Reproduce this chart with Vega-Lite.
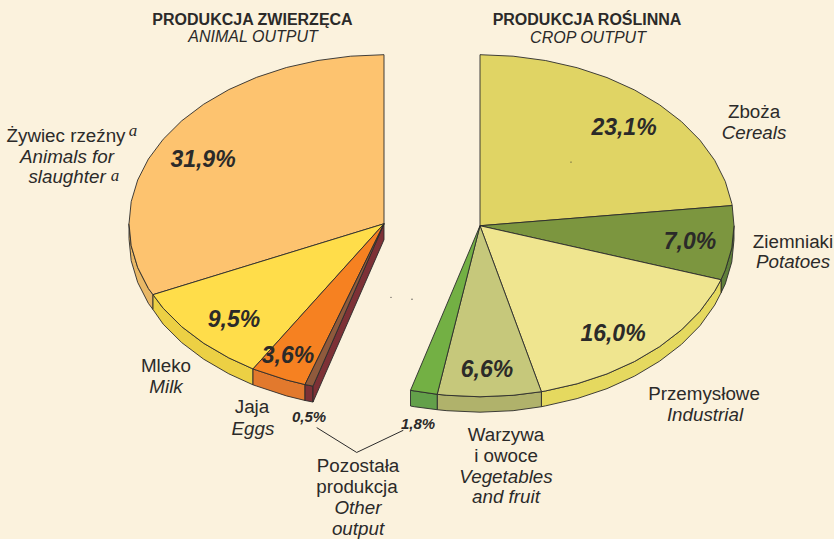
{"$schema":"https://vega.github.io/schema/vega-lite/v6.json","autosize":{"type":"fit","contains":"padding"},"width":834,"height":539,"padding":0,"background":"#fbf2dd","config":{"view":{"stroke":null}},
"datasets":{
"shapes":[
{"p":"wSlaughter","x":129,"y":225},{"p":"wSlaughter","x":131.2,"y":247.2},{"p":"wSlaughter","x":137.7,"y":269},{"p":"wSlaughter","x":148.4,"y":290.1},{"p":"wSlaughter","x":153,"y":296.3},{"p":"wSlaughter","x":153,"y":311.3},{"p":"wSlaughter","x":148.4,"y":305.1},{"p":"wSlaughter","x":137.7,"y":284},{"p":"wSlaughter","x":131.2,"y":262.2},{"p":"wSlaughter","x":129,"y":240},{"p":"wSlaughter","x":129,"y":225},
{"p":"wMilk","x":153,"y":296.3},{"p":"wMilk","x":163.2,"y":310},{"p":"wMilk","x":181.7,"y":328.5},{"p":"wMilk","x":203.7,"y":345.2},{"p":"wMilk","x":228.8,"y":359.9},{"p":"wMilk","x":253,"y":371},{"p":"wMilk","x":253,"y":387},{"p":"wMilk","x":228.8,"y":375.9},{"p":"wMilk","x":203.7,"y":361.2},{"p":"wMilk","x":181.7,"y":344.5},{"p":"wMilk","x":163.2,"y":326},{"p":"wMilk","x":153,"y":311.3},{"p":"wMilk","x":153,"y":296.3},
{"p":"wEggs","x":253,"y":371},{"p":"wEggs","x":256.5,"y":372.2},{"p":"wEggs","x":286.4,"y":382.1},{"p":"wEggs","x":305,"y":386.7},{"p":"wEggs","x":305,"y":402.7},{"p":"wEggs","x":286.4,"y":398.1},{"p":"wEggs","x":256.5,"y":388.2},{"p":"wEggs","x":253,"y":387},{"p":"wEggs","x":253,"y":371},
{"p":"wOther","x":305,"y":386.7},{"p":"wOther","x":313,"y":388.3},{"p":"wOther","x":313,"y":404.3},{"p":"wOther","x":305,"y":402.7},{"p":"wOther","x":305,"y":386.7},
{"p":"rOther","x":384,"y":225},{"p":"rOther","x":313,"y":388.3},{"p":"rOther","x":313,"y":404.3},{"p":"rOther","x":384,"y":241},{"p":"rOther","x":384,"y":225},
{"p":"wPotatoes","x":734,"y":227},{"p":"wPotatoes","x":731.8,"y":249.4},{"p":"wPotatoes","x":725.3,"y":271.5},{"p":"wPotatoes","x":721,"y":281.3},{"p":"wPotatoes","x":721,"y":294.5},{"p":"wPotatoes","x":725.3,"y":285.5},{"p":"wPotatoes","x":731.8,"y":263.4},{"p":"wPotatoes","x":734,"y":241},{"p":"wPotatoes","x":734,"y":227},
{"p":"wIndustrial","x":721,"y":281.3},{"p":"wIndustrial","x":714.7,"y":292.8},{"p":"wIndustrial","x":700,"y":313},{"p":"wIndustrial","x":681.5,"y":331.7},{"p":"wIndustrial","x":659.6,"y":348.6},{"p":"wIndustrial","x":634.6,"y":363.5},{"p":"wIndustrial","x":607,"y":376},{"p":"wIndustrial","x":577.2,"y":385.9},{"p":"wIndustrial","x":545.7,"y":393.1},{"p":"wIndustrial","x":541.4,"y":393.9},{"p":"wIndustrial","x":541.4,"y":409},{"p":"wIndustrial","x":545.7,"y":408.1},{"p":"wIndustrial","x":577.2,"y":400.8},{"p":"wIndustrial","x":607,"y":390.8},{"p":"wIndustrial","x":634.6,"y":378.2},{"p":"wIndustrial","x":659.6,"y":363.2},{"p":"wIndustrial","x":681.5,"y":346.3},{"p":"wIndustrial","x":700,"y":327.5},{"p":"wIndustrial","x":714.7,"y":306.8},{"p":"wIndustrial","x":721,"y":294.5},{"p":"wIndustrial","x":721,"y":281.3},
{"p":"wVegetables","x":541.4,"y":393.9},{"p":"wVegetables","x":513.1,"y":397.5},{"p":"wVegetables","x":480,"y":399},{"p":"wVegetables","x":446.9,"y":397.5},{"p":"wVegetables","x":437.2,"y":396.5},{"p":"wVegetables","x":437.2,"y":412},{"p":"wVegetables","x":446.9,"y":413},{"p":"wVegetables","x":480,"y":414.5},{"p":"wVegetables","x":513.1,"y":413},{"p":"wVegetables","x":541.4,"y":409},{"p":"wVegetables","x":541.4,"y":393.9},
{"p":"wCropOther","x":437.2,"y":396.5},{"p":"wCropOther","x":414.3,"y":393.1},{"p":"wCropOther","x":410.5,"y":392.5},{"p":"wCropOther","x":410.5,"y":408.3},{"p":"wCropOther","x":414.3,"y":409},{"p":"wCropOther","x":437.2,"y":412},{"p":"wCropOther","x":437.2,"y":396.5},
{"p":"Slaughter","x":384,"y":225},{"p":"Slaughter","x":384,"y":55},{"p":"Slaughter","x":350.7,"y":56.5},{"p":"Slaughter","x":318,"y":60.8},{"p":"Slaughter","x":286.4,"y":67.9},{"p":"Slaughter","x":256.5,"y":77.8},{"p":"Slaughter","x":228.8,"y":90.1},{"p":"Slaughter","x":203.7,"y":104.8},{"p":"Slaughter","x":181.7,"y":121.5},{"p":"Slaughter","x":163.2,"y":140},{"p":"Slaughter","x":148.4,"y":159.9},{"p":"Slaughter","x":137.7,"y":181},{"p":"Slaughter","x":131.2,"y":202.8},{"p":"Slaughter","x":129,"y":225},{"p":"Slaughter","x":131.2,"y":247.2},{"p":"Slaughter","x":137.7,"y":269},{"p":"Slaughter","x":148.4,"y":290.1},{"p":"Slaughter","x":153,"y":296.3},{"p":"Slaughter","x":384,"y":225},
{"p":"Milk","x":384,"y":225},{"p":"Milk","x":153,"y":296.3},{"p":"Milk","x":163.2,"y":310},{"p":"Milk","x":181.7,"y":328.5},{"p":"Milk","x":203.7,"y":345.2},{"p":"Milk","x":228.8,"y":359.9},{"p":"Milk","x":253,"y":371},{"p":"Milk","x":384,"y":225},
{"p":"Eggs","x":384,"y":225},{"p":"Eggs","x":253,"y":371},{"p":"Eggs","x":256.5,"y":372.2},{"p":"Eggs","x":286.4,"y":382.1},{"p":"Eggs","x":305,"y":386.7},{"p":"Eggs","x":384,"y":225},
{"p":"Other","x":384,"y":225},{"p":"Other","x":305,"y":386.7},{"p":"Other","x":313,"y":388.3},{"p":"Other","x":384,"y":225},
{"p":"Cereals","x":480,"y":227},{"p":"Cereals","x":480,"y":55},{"p":"Cereals","x":513.1,"y":56.5},{"p":"Cereals","x":545.7,"y":60.9},{"p":"Cereals","x":577.2,"y":68.1},{"p":"Cereals","x":607,"y":78},{"p":"Cereals","x":634.6,"y":90.5},{"p":"Cereals","x":659.6,"y":105.4},{"p":"Cereals","x":681.5,"y":122.3},{"p":"Cereals","x":700,"y":141},{"p":"Cereals","x":714.7,"y":161.2},{"p":"Cereals","x":725.3,"y":182.5},{"p":"Cereals","x":731.8,"y":204.6},{"p":"Cereals","x":732.2,"y":206.7},{"p":"Cereals","x":480,"y":227},
{"p":"Potatoes","x":480,"y":227},{"p":"Potatoes","x":732.2,"y":206.7},{"p":"Potatoes","x":734,"y":227},{"p":"Potatoes","x":731.8,"y":249.4},{"p":"Potatoes","x":725.3,"y":271.5},{"p":"Potatoes","x":721,"y":281.3},{"p":"Potatoes","x":480,"y":227},
{"p":"Industrial","x":480,"y":227},{"p":"Industrial","x":721,"y":281.3},{"p":"Industrial","x":714.7,"y":292.8},{"p":"Industrial","x":700,"y":313},{"p":"Industrial","x":681.5,"y":331.7},{"p":"Industrial","x":659.6,"y":348.6},{"p":"Industrial","x":634.6,"y":363.5},{"p":"Industrial","x":607,"y":376},{"p":"Industrial","x":577.2,"y":385.9},{"p":"Industrial","x":545.7,"y":393.1},{"p":"Industrial","x":541.4,"y":393.9},{"p":"Industrial","x":480,"y":227},
{"p":"Vegetables","x":480,"y":227},{"p":"Vegetables","x":541.4,"y":393.9},{"p":"Vegetables","x":513.1,"y":397.5},{"p":"Vegetables","x":480,"y":399},{"p":"Vegetables","x":446.9,"y":397.5},{"p":"Vegetables","x":437.2,"y":396.5},{"p":"Vegetables","x":480,"y":227},
{"p":"CropOther","x":480,"y":227},{"p":"CropOther","x":437.2,"y":396.5},{"p":"CropOther","x":414.3,"y":393.1},{"p":"CropOther","x":410.5,"y":392.5},{"p":"CropOther","x":480,"y":227}
],
"leader":[{"x":316.7,"y":430},{"x":356.7,"y":455},{"x":403.3,"y":432.7}],
"specks":[{"x":391,"y":299},{"x":412,"y":301},{"x":571,"y":163}],
"heads":[{"t":"PRODUKCJA ZWIERZĘCA","x":252.5,"y":19},{"t":"PRODUKCJA ROŚLINNA","x":587,"y":19}],
"subs":[{"t":"ANIMAL OUTPUT","x":253,"y":36},{"t":"CROP OUTPUT","x":588,"y":37}],
"pl":[{"t":"Żywiec rzeźny","x":66,"y":136},{"t":"Zboża","x":754,"y":112},{"t":"Ziemniaki","x":793,"y":242},{"t":"Przemysłowe","x":704,"y":395},{"t":"Warzywa","x":506,"y":436},{"t":"i owoce","x":506,"y":458},{"t":"Pozostała","x":358,"y":468},{"t":"produkcja","x":357,"y":489},{"t":"Mleko","x":166,"y":367},{"t":"Jaja","x":252,"y":408}],
"en":[{"t":"Animals for","x":67,"y":157},{"t":"slaughter","x":67,"y":177},{"t":"Cereals","x":754,"y":133},{"t":"Potatoes","x":793,"y":262},{"t":"Industrial","x":705,"y":416},{"t":"Vegetables","x":506,"y":479},{"t":"and fruit","x":506,"y":499},{"t":"Other","x":358,"y":510},{"t":"output","x":358,"y":531},{"t":"Milk","x":166,"y":388},{"t":"Eggs","x":253,"y":430}],
"notes":[{"t":"a","x":133,"y":132},{"t":"a","x":115,"y":177}],
"big":[{"t":"31,9%","x":203,"y":160},{"t":"9,5%","x":234,"y":321},{"t":"3,6%","x":288,"y":357},{"t":"23,1%","x":624,"y":128},{"t":"7,0%","x":690,"y":242},{"t":"16,0%","x":613,"y":335},{"t":"6,6%","x":487,"y":371}],
"small":[{"t":"0,5%","x":309,"y":418},{"t":"1,8%","x":418,"y":425}]
},
"encoding":{"x":{"field":"x","type":"quantitative","scale":{"domain":[0,834],"nice":false,"zero":false},"axis":null},"y":{"field":"y","type":"quantitative","scale":{"domain":[539,0],"nice":false,"zero":false},"axis":null}},
"layer":[
{"data":{"name":"shapes"},"mark":{"type":"line","stroke":"#2b2b2b","strokeWidth":0.9,"strokeJoin":"round","clip":false},"encoding":{"order":{"value":null},"detail":{"field":"p"},"fill":{"field":"p","type":"nominal","legend":null,"scale":{"domain":["wSlaughter","wMilk","wEggs","wOther","rOther","wPotatoes","wIndustrial","wVegetables","wCropOther","Slaughter","Milk","Eggs","Other","Cereals","Potatoes","Industrial","Vegetables","CropOther"],"range":["#e9b866","#ecd044","#e2792d","#7d3136","#7d3136","#5f7f3a","#e5d95f","#b0b26b","#63a04a","#fdc36f","#ffdd4a","#f68121","#8f5a3c","#e0d464","#7c963f","#efe58f","#c6c87b","#73b044"]}}}},
{"data":{"name":"leader"},"mark":{"type":"line","stroke":"#2b2b2b","strokeWidth":1},"encoding":{"order":{"value":null}}},
{"data":{"name":"specks"},"mark":{"type":"point","filled":true,"size":2,"color":"#2b2b2b","opacity":0.8}},
{"data":{"name":"heads"},"mark":{"type":"text","font":"Liberation Sans","fontSize":16,"fontWeight":"bold","fill":"#2b2a29","dy":1},"encoding":{"text":{"field":"t"}}},
{"data":{"name":"subs"},"mark":{"type":"text","font":"Liberation Sans","fontSize":16,"fontStyle":"italic","fill":"#2b2a29","dy":1},"encoding":{"text":{"field":"t"}}},
{"data":{"name":"pl"},"mark":{"type":"text","font":"Liberation Sans","fontSize":18.8,"fill":"#2b2a29","dy":1},"encoding":{"text":{"field":"t"}}},
{"data":{"name":"en"},"mark":{"type":"text","font":"Liberation Sans","fontSize":18.8,"fontStyle":"italic","fill":"#2b2a29","dy":1},"encoding":{"text":{"field":"t"}}},
{"data":{"name":"notes"},"mark":{"type":"text","font":"Liberation Serif","fontSize":17,"fontStyle":"italic","fill":"#2b2a29"},"encoding":{"text":{"field":"t"}}},
{"data":{"name":"big"},"mark":{"type":"text","font":"Liberation Sans","fontSize":23,"fontWeight":"bold","fontStyle":"italic","fill":"#2b2a29","dy":1},"encoding":{"text":{"field":"t"}}},
{"data":{"name":"small"},"mark":{"type":"text","font":"Liberation Sans","fontSize":15,"fontWeight":"bold","fontStyle":"italic","fill":"#2b2a29","dy":1},"encoding":{"text":{"field":"t"}}}
]}
